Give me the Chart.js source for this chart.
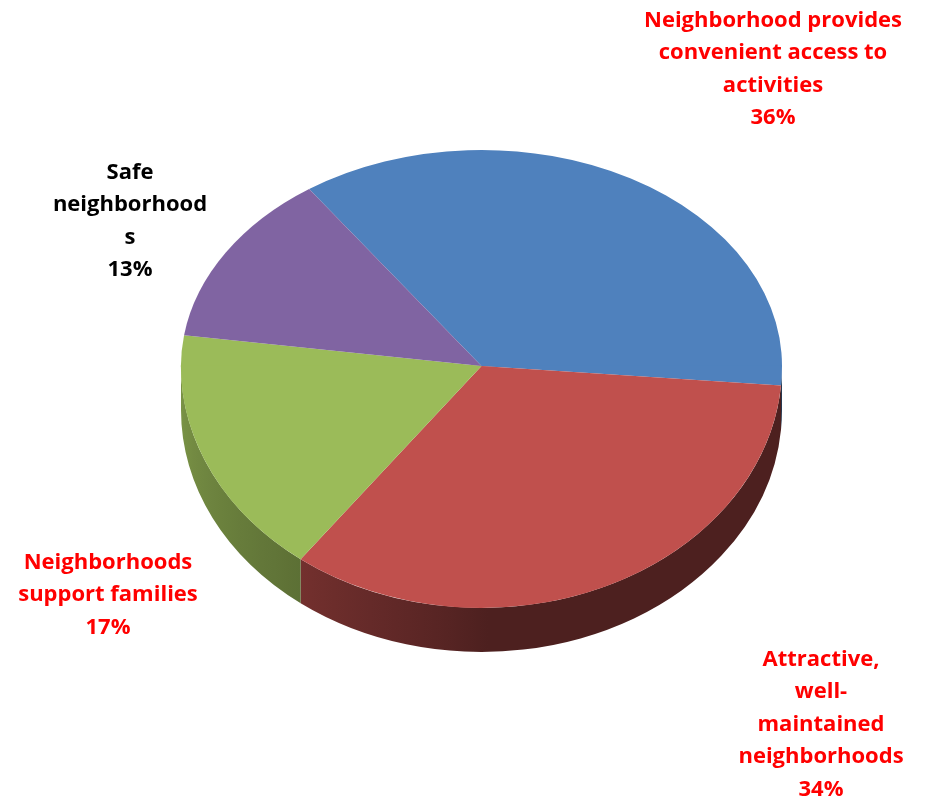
<!DOCTYPE html>
<html>
<head>
<meta charset="utf-8">
<title>Neighborhood qualities</title>
<script src="https://cdn.jsdelivr.net/npm/chart.js@4.4.1/dist/chart.umd.min.js"></script>
<style>
  html, body { margin: 0; padding: 0; background: #fff; }
  #wrap { width: 930px; height: 800px; position: relative; }
</style>
</head>
<body>
<div id="wrap"><canvas id="c"></canvas></div>
<script>
// Category names, one array entry per wrapped label line
const categories = [
  ['Neighborhood provides', 'convenient access to', 'activities'],
  ['Attractive,', 'well-', 'maintained', 'neighborhoods'],
  ['Neighborhoods', 'support families'],
  ['Safe', 'neighborhood', 's']
];
// Share of responses (percent)
const shares = [36, 34, 17, 13];

// Styling
const sliceColors = ['#4F81BD', '#C0504D', '#9BBB59', '#8064A2'];
const labelColors = ['#FF0000', '#FF0000', '#FF0000', '#000000'];
// first-line baseline of each label block
const labelAnchors = [
  { x: 773, y: 27 },
  { x: 821, y: 666 },
  { x: 108, y: 569 },
  { x: 130, y: 179 }
];
const LINE_STEP = 32.4;
const LABEL_FONT = 'bold 22px "Open Sans", Lato, sans-serif';

// Tilted face: the far half is foreshortened more than the near half
const APEX_Y = 366;     // where the slices meet
const FAR_SCALE = 0.719;
const NEAR_SCALE = 0.805;
const DEPTH = 44;       // thickness of the rim

function parseHex(hex) {
  const h = hex.replace('#', '');
  return [0, 2, 4].map(i => parseInt(h.substr(i, 2), 16));
}
// Rim lighting: left-facing wall is lit, front/right walls are in shade
function shadeFactor(a) {
  const d = a * 180 / Math.PI;
  if (d <= 90) return 0.40;
  return 0.40 + 0.40 * Math.pow((d - 90) / 90, 0.8);
}

function tiltTo(ctx, cx, cy, scale) {
  ctx.translate(cx, APEX_Y);
  ctx.scale(1, scale);
  ctx.translate(-cx, -cy);
}

const pie3d = {
  id: 'pie3d',
  beforeDatasetsDraw(chart) {
    const ctx = chart.ctx;
    const arcs = chart.getDatasetMeta(0).data;
    if (!arcs.length) return;
    const c = arcs[0].getProps(['x', 'y', 'outerRadius'], true);
    const cx = c.x, cy = c.y, R = c.outerRadius;
    const ry = R * NEAR_SCALE;

    // rim walls on the near half of the disc
    ctx.save();
    arcs.forEach(arc => {
      const p = arc.getProps(['startAngle', 'endAngle'], true);
      const base = parseHex(arc.options.backgroundColor);
      for (let k = -1; k <= 1; k++) {
        const lo = Math.max(p.startAngle, 2 * Math.PI * k);
        const hi = Math.min(p.endAngle, 2 * Math.PI * k + Math.PI);
        if (hi <= lo) continue;
        const a1 = lo - 2 * Math.PI * k;
        const a2 = hi - 2 * Math.PI * k;
        const xL = cx + R * Math.cos(a2);
        const xR = cx + R * Math.cos(a1);
        const g = ctx.createLinearGradient(xL, 0, Math.max(xR, xL + 1), 0);
        const N = 16;
        for (let j = 0; j <= N; j++) {
          const a = a1 + (a2 - a1) * j / N;
          const xx = cx + R * Math.cos(a);
          const t = xR > xL ? (xx - xL) / (xR - xL) : 0;
          const f = shadeFactor(a);
          const col = base.map(v => Math.round(v * f));
          g.addColorStop(Math.min(1, Math.max(0, t)), `rgb(${col[0]},${col[1]},${col[2]})`);
        }
        ctx.beginPath();
        ctx.ellipse(cx, APEX_Y, R, ry, 0, a1, a2);
        ctx.ellipse(cx, APEX_Y + DEPTH, R, ry, 0, a2, a1, true);
        ctx.closePath();
        ctx.fillStyle = g;
        ctx.fill();
      }
    });
    ctx.restore();

    // far half of the face, drawn by the doughnut controller
    ctx.save();
    ctx.beginPath();
    ctx.rect(0, 0, chart.width, APEX_Y + 0.5);
    ctx.clip();
    tiltTo(ctx, cx, cy, FAR_SCALE);
  },
  afterDatasetsDraw(chart) {
    const meta = chart.getDatasetMeta(0);
    if (!meta.data.length) return;
    const ctx = chart.ctx;
    ctx.restore();
    const c = meta.data[0].getProps(['x', 'y'], true);
    // near half of the face
    ctx.save();
    ctx.beginPath();
    ctx.rect(0, APEX_Y - 0.5, chart.width, chart.height);
    ctx.clip();
    tiltTo(ctx, c.x, c.y, NEAR_SCALE);
    meta.controller.draw();
    ctx.restore();
  }
};

const sliceLabels = {
  id: 'sliceLabels',
  afterDraw(chart) {
    const ctx = chart.ctx;
    const values = chart.data.datasets[0].data;
    const total = values.reduce((a, b) => a + b, 0);
    ctx.save();
    ctx.font = LABEL_FONT;
    ctx.textAlign = 'center';
    ctx.textBaseline = 'alphabetic';
    categories.forEach((lines, i) => {
      const all = lines.concat([Math.round(values[i] / total * 100) + '%']);
      ctx.fillStyle = labelColors[i];
      all.forEach((t, j) => ctx.fillText(t, labelAnchors[i].x, labelAnchors[i].y + j * LINE_STEP));
    });
    ctx.restore();
  }
};

new Chart(document.getElementById('c'), {
  type: 'pie',
  data: {
    labels: categories.map(l => l.join(' ')),
    datasets: [{
      data: shares,
      backgroundColor: sliceColors,
      borderWidth: 0,
      clip: false
    }]
  },
  options: {
    responsive: true,
    maintainAspectRatio: false,
    animation: false,
    events: [],
    rotation: -35,
    layout: { padding: { left: 181, right: 148, top: 100, bottom: 99 } },
    plugins: {
      legend: { display: false },
      tooltip: { enabled: false }
    }
  },
  plugins: [pie3d, sliceLabels]
});
</script>
</body>
</html>
